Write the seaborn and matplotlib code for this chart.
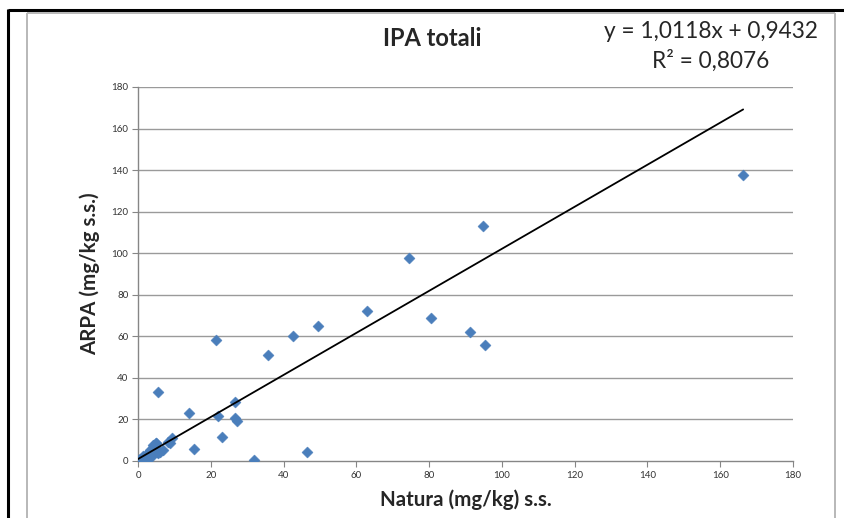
import numpy as np
import pandas as pd
import matplotlib
matplotlib.use("Agg")
import matplotlib.pyplot as plt
from matplotlib.lines import Line2D
import seaborn as sns

# ---- data ----
natura = [166.3, 94.8, 74.5, 80.5, 91.2, 95.4, 62.9, 49.6, 42.5, 35.8,
          21.4, 5.6, 14.1, 22.0, 26.7, 26.6, 27.1, 23.0, 15.3, 31.8,
          46.4, 9.3, 8.8, 8.3, 4.9, 4.2, 6.0, 6.8, 5.1,
          0.2, 0.5, 0.8, 1.0, 1.3, 1.5, 1.8, 2.1, 2.4, 2.7, 3.0, 3.3,
          3.6, 4.0, 4.4, 4.7, 5.0, 5.5, 2.9, 3.9, 1.1, 0.4]
arpa = [137.6, 113.0, 97.7, 68.8, 62.1, 55.8, 72.2, 64.9, 60.1, 51.0,
        58.2, 33.1, 23.2, 21.5, 28.5, 20.5, 19.3, 11.7, 5.6, 0.7,
        4.1, 10.9, 8.9, 9.3, 8.8, 7.7, 4.5, 5.2, 4.4,
        0.3, 0.9, 0.2, 1.6, 0.8, 2.6, 1.7, 3.1, 2.0, 3.9, 3.0, 5.2,
        4.1, 6.2, 5.0, 7.3, 8.6, 4.0, 1.3, 2.6, 0.4, 0.1]
slope = 1.0118
intercept = 0.9432
r2 = 0.8076
title = "IPA totali"
xlabel = "Natura (mg/kg) s.s."
ylabel = "ARPA (mg/kg s.s.)"
xticks = [0, 20, 40, 60, 80, 100, 120, 140, 160, 180]
yticks = [0, 20, 40, 60, 80, 100, 120, 140, 160, 180]

df = pd.DataFrame({"Natura": natura, "ARPA": arpa})

sns.set_style("white")
plt.rcParams["font.family"] = ["Lato", "DejaVu Sans"]

W, H = 845, 518
fig = plt.figure(figsize=(W / 100, H / 100), dpi=100)
ax = fig.add_axes([138 / W, 1 - 461 / H, (793 - 138) / W, (461 - 87) / H])

grid_col = "#9a9a9a"
for yv in yticks[1:]:
    ax.axhline(yv, color=grid_col, lw=1.0, zorder=0)

sns.scatterplot(data=df, x="Natura", y="ARPA", marker="D", s=32,
                color="#4a7ebb", edgecolor="#4a7ebb", linewidth=0.3,
                ax=ax, zorder=3, legend=False)

xs = np.array([0, max(natura)])
ax.plot(xs, slope * xs + intercept, color="black", lw=1.3, zorder=4)

ax.set_xlim(0, 180)
ax.set_ylim(0, 180)
ax.set_xticks(xticks)
ax.set_yticks(yticks)
ax.tick_params(axis="both", labelsize=7, colors="#868686", labelcolor="#333333",
               length=4, width=0.8, direction="out", pad=3)
ax.tick_params(axis="x", bottom=True)
ax.tick_params(axis="y", left=True)
for side in ["top", "right"]:
    ax.spines[side].set_visible(False)
for side in ["left", "bottom"]:
    ax.spines[side].set_color("#868686")
    ax.spines[side].set_linewidth(1.0)

ax.set_xlabel(xlabel, fontsize=14.8, fontweight="bold", labelpad=7)
ax.set_ylabel(ylabel, fontsize=14.8, fontweight="bold", labelpad=8)
ax.set_title("")

fig.text(432 / W, 1 - 38 / H, title, ha="center", va="center",
         fontsize=17, fontweight="bold")
fig.text(711 / W, 1 - 31 / H, f"y = {slope:.4f}x + {intercept:.4f}".replace(".", ","),
         ha="center", va="center", fontsize=16.3)
fig.text(711 / W, 1 - 61 / H, f"R² = {r2:.4f}".replace(".", ","),
         ha="center", va="center", fontsize=16.3)

# frame lines of the screenshot
def fline(x0, y0, x1, y1, color, lw):
    fig.add_artist(Line2D([x0 / W, x1 / W], [1 - y0 / H, 1 - y1 / H],
                          color=color, lw=lw, transform=fig.transFigure,
                          solid_capstyle="butt"))

fline(8, 10, W, 10, "black", 2.2)
fline(8, 9, 8, H, "black", 2.2)
fline(27, 12.5, 835, 12.5, "#b8b8b8", 1.4)
fline(27, 12.5, 27, H, "#b8b8b8", 1.4)
fline(835, 12.5, 835, H, "#b8b8b8", 1.4)

fig.savefig("out.png", dpi=100, facecolor="white")
